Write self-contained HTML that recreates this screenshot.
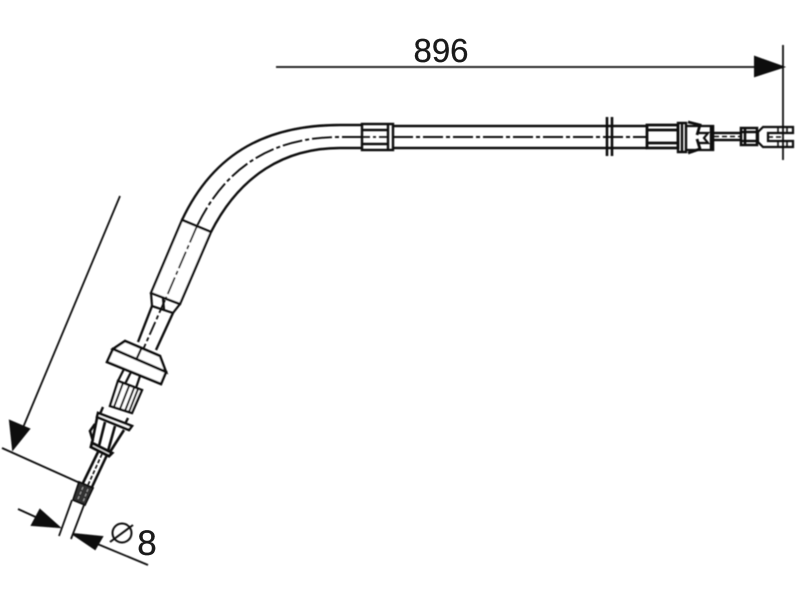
<!DOCTYPE html>
<html>
<head>
<meta charset="utf-8">
<style>
html,body{margin:0;padding:0;background:#fff;width:800px;height:600px;overflow:hidden}
svg{display:block}
text{font-family:"Liberation Sans",sans-serif;fill:#1a1a1a;stroke:#1a1a1a;stroke-width:.3px}
</style>
</head>
<body>
<svg width="800" height="600" viewBox="0 0 800 600" xmlns="http://www.w3.org/2000/svg">
<defs><filter id="b" x="-5%" y="-5%" width="110%" height="110%"><feGaussianBlur stdDeviation="0.4"/></filter></defs>
<g filter="url(#b)" fill="none" stroke="#111" stroke-width="2">
  <!-- top dimension -->
  <path d="M276 67H760M783 45V160" stroke-width="1.8"/>
  <path d="M755 57L783 67L755 76Z" fill="#111"/>

  <!-- curved cable -->
  <path d="M362 125H340C270 125 215 150 182 220" stroke-width="2.4"/>
  <path d="M362 148H340C285 148 240 175 211 232" stroke-width="2.4"/>
  <path d="M362 137H340C278 137 228 162 197 226" stroke-width="1.9" stroke-dasharray="20 3 4 3"/>

  <!-- sleeve -->
  <path d="M182 220L211 232L180 304L151 293Z" fill="#fff" stroke-width="2.3"/>
  <path d="M197 226L166 298" stroke-width="1.8" stroke-dasharray="18 3 4 3"/>
  <path d="M151 293L152 306L173 313L180 304M163 298L164 310" stroke-width="2.2"/>
  <path d="M165 300L142 352" stroke-width="1.8" stroke-dasharray="14 3 4 3"/>

  <!-- straight segment -->
  <path d="M393 126H647M393 148H647" stroke-width="2.4"/>
  <path d="M393 137H647" stroke-dasharray="20 3 4 3" stroke-width="1.9"/>
  <path d="M362 124H393V150H362ZM362 130H388M362 144H388M388 124V150" stroke-width="2.4"/>
  <path d="M362 137H388" stroke-dasharray="8 3 3 3" stroke-width="1.8"/>
  <path d="M607 117V156M612 117V156" stroke-width="2.6"/>

  <!-- right fitting -->
  <path d="M647 125H678V148H647ZM647 130H678M647 143H678" stroke-width="2.8"/>
  <path d="M678 123H686V152H678ZM682 123V152" stroke-width="2.4"/>
  <path d="M688 122L700 125L697 135M688 153L700 149L697 139" stroke-width="2.8"/>
  <path d="M686 126H713V150H686M697 133H708L704 138L708 143H697" stroke-width="2.2"/>
  <path d="M712 125V151" stroke-width="4.5"/>
  <path d="M714 133H740M714 140H740" stroke-width="2.4"/>
  <path d="M714 136.500H740" stroke-dasharray="5 3" stroke-width="1.6"/>
  <path d="M741 128H757V145H741ZM745 128V145M741 132H757M741 141H757" stroke-width="2.6"/>
  <path d="M758 132L763 127H793V133H768V141H793V147H763L758 142Z" stroke-width="2.2"/>
  <path d="M778 127V133M778 141V147M787 127V133M787 141V147" stroke-width="1.6"/>
  <path d="M768 137H782" stroke-dasharray="5 3" stroke-width="1.6"/>

  <!-- lower cable to flange -->
  <path d="M152 306L138 342M173 313L156 350" stroke-width="2.4"/>

  <!-- flange -->
  <path d="M125 341L160 356L166 372L113 349Z" fill="#fff" stroke-width="2.6"/>
  <path d="M113 349L166 372L161 384L107 362Z" fill="#fff" stroke-width="2.6"/>
  <path d="M142 347L137 358" stroke-width="2.2"/>

  <!-- below flange -->
  <path d="M124 369L118 381M131 372L125 384M140 376L136 388" stroke-width="2.2"/>
  <path d="M118 381L142 390L132 413L110 406Z" fill="#fff" stroke-width="2.4"/>
  <path d="M123 383L114 407M129 386L120 409M134 388L125 411M138 389L129 412" stroke-width="2"/>
  <path d="M98 413L132 426L129 430L97 417Z" fill="#fff" stroke-width="2.6"/>
  <path d="M103 407L100 414M128 418L125 424" stroke-width="2.4"/>

  <!-- clip -->
  <path d="M97 418L92 443M105 422L99 446M115 426L108 451M124 430L110 452M95 424L90 431L93 441" stroke-width="2.6"/>
  <path d="M92 443L112 453L109 456L91 447Z" fill="#fff" stroke-width="3"/>

  <!-- thin rod -->
  <path d="M98 452L83 483M107 455L92 487" stroke-width="2.6"/>
  <path d="M102 454L88 485" stroke-width="1.6" stroke-dasharray="4 2"/>

  <!-- end piece -->
  <path d="M79 482L93 488L85 505L73 500Z" fill="#333" stroke-width="1.8"/>
  <path d="M83 487L78 499M88 489L83 502" stroke="#999" stroke-width="1.2" stroke-dasharray="3 2"/>

  <!-- long dimension -->
  <path d="M120 196L22 430" stroke-width="1.8"/>
  <path d="M13 449L10 421L29 429Z" fill="#111"/>
  <path d="M2 448L80 483" stroke-width="1.8"/>

  <!-- diameter dimension -->
  <path d="M72 500L59 536M84 505L71 539" stroke-width="1.8"/>
  <path d="M18 509L40 519" stroke-width="1.8"/>
  <path d="M59 527L40 510L32 525Z" fill="#111"/>
  <path d="M95 543L148 565" stroke-width="1.8"/>
  <path d="M73 534L102 537L95 549Z" fill="#111"/>
  <circle cx="122" cy="533" r="9.500" stroke-width="2"/>
  <path d="M110 542L133 525" stroke-width="2"/>
</g>
<text x="441" y="62" text-anchor="middle" font-size="33">896</text>
<text x="147" y="555" text-anchor="middle" font-size="35">8</text>
</svg>
</body>
</html>
